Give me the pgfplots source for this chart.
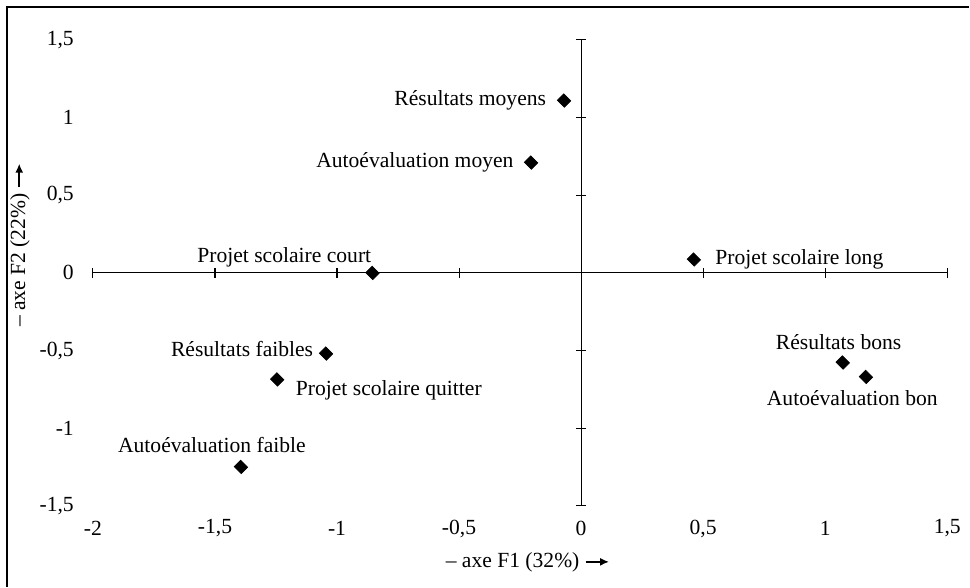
\documentclass[border=0pt]{standalone}
\usepackage{fontspec}
\setmainfont{Liberation Serif}
\usepackage{pgfplots}
\pgfplotsset{compat=1.18}
\usetikzlibrary{arrows.meta}

\newcommand\axarrow{\tikz[baseline=-0.6ex]\draw[line width=0.9pt,-{Latex[length=5pt,width=4.5pt]}] (0,0)--(13pt,0);}

\pgfplotsset{
  acmbase/.style={
    width=475pt, height=259pt, scale only axis,
    xmin=-2, xmax=1.5, ymin=-1.5, ymax=1.5,
    xtick={-2,-1.5,...,1.5}, ytick={-1.5,-1,...,1.5},
  },
  % one labelled point: anchor, xshift, yshift
  pt/.style n args={3}{only marks, mark=square*, mark size=2.5pt,
    mark options={rotate=45, yscale=1.1}, black,
    point meta=explicit symbolic, nodes near coords,
    every node near coord/.append style={anchor=#1, xshift=#2, yshift=#3, inner sep=0pt, black}},
}

\begin{document}
\begin{tikzpicture}[font=\fontsize{12}{14}\selectfont]
% axes through the origin, ticks only
\begin{axis}[acmbase,
  axis lines=middle,
  axis line style={-, line width=0.6pt},
  tick style={black, line width=0.6pt},
  tick align=center, major tick length=5.5pt,
  xticklabels={}, yticklabels={},
]
\end{axis}
% tick labels on the left/bottom, data points and frame
\begin{axis}[acmbase,
  axis lines=left,
  axis line style={draw=none},
  tick style={draw=none},
  clip=false,
  /pgf/number format/.cd, use comma, 1000 sep={}, assume math mode=true,
  /pgfplots/.cd,
  xticklabel style={anchor=center, yshift=-10.5pt},
  yticklabel style={anchor=east, xshift=-5pt},
  xlabel={\textendash\ axe F1 (32\%) \axarrow},
  ylabel={\textendash\ axe F2 (22\%) \axarrow},
  xlabel style={at={(axis description cs:0.509,-0.122)}, anchor=center},
  ylabel style={at={(axis description cs:-0.0854,0.560)}, anchor=center},
]
\addplot[pt={east}{-9.8pt}{0pt}] coordinates {(-0.07,1.11) [Résultats moyens]};
\addplot[pt={east}{-9.6pt}{0pt}] coordinates {(-0.205,0.71) [Autoévaluation moyen]};
\addplot[pt={south east}{-0.5pt}{3.2pt}] coordinates {(-0.855,0.0) [Projet scolaire court]};
\addplot[pt={west}{11.8pt}{0pt}] coordinates {(0.462,0.086) [Projet scolaire long]};
\addplot[pt={east}{-7pt}{2.8pt}] coordinates {(-1.045,-0.52) [Résultats faibles]};
\addplot[pt={west}{10.2pt}{-5.9pt}] coordinates {(-1.245,-0.686) [Projet scolaire quitter]};
\addplot[pt={south}{-16.1pt}{7.6pt}] coordinates {(-1.394,-1.25) [Autoévaluation faible]};
\addplot[pt={south}{-2.3pt}{6.8pt}] coordinates {(1.072,-0.577) [Résultats bons]};
\addplot[pt={north}{-7.6pt}{-7.4pt}] coordinates {(1.167,-0.67) [Autoévaluation bon]};
\draw[line width=0.9pt] (axis description cs:-0.1006,-0.1738) -- (axis description cs:-0.1006,1.071) -- (axis description cs:1.0257,1.071);
\path (axis description cs:-0.1088,-0.1738) rectangle (axis description cs:1.0257,1.0858);
\end{axis}
\end{tikzpicture}
\end{document}
